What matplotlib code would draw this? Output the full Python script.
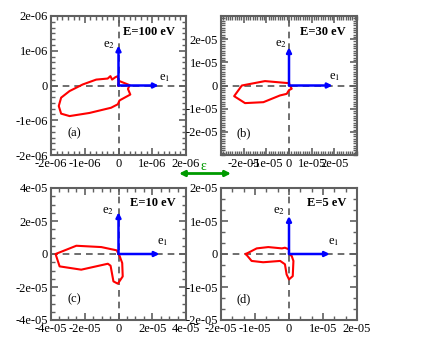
import numpy as np
import matplotlib.pyplot as plt
from matplotlib.ticker import AutoMinorLocator

plt.rcParams['font.family'] = ['Liberation Serif', 'DejaVu Serif']
plt.rcParams['mathtext.fontset'] = 'stix'

# curves, in units of the panel scale
a_x = [0, 0.02, 0.33, 0.28, 0.35, 0.18, 0.03, -0.02, -0.22, -0.86, -1.45, -1.70, -1.77,
       -1.70, -1.45, -1.06, -0.66, -0.32, -0.24, -0.19, -0.09, -0.02, 0, 0]
a_y = [0, 0.13, 0.01, -0.10, -0.26, -0.35, -0.43, -0.54, -0.64, -0.79, -0.88, -0.81, -0.59,
       -0.35, -0.16, 0.03, 0.17, 0.20, 0.27, 0.17, 0.24, 0.27, 0.10, 0]
b_x = [0, -1.06, -2.08, -2.42, -1.94, -1.13, -0.40, -0.10, 0.0, 0.12, 0.04, 0]
b_y = [0.10, 0.19, 0, -0.46, -0.76, -0.72, -0.43, -0.36, -0.20, -0.14, 0.0, 0.10]
c_x = [0, -0.10, -1.02, -2.50, -3.73, -3.49, -2.21, -0.63, -0.47, -0.30, -0.04, 0.25, 0.22, 0.06, 0]
c_y = [0, 0.22, 0.42, 0.50, 0, -0.75, -0.95, -0.59, -0.71, -1.66, -1.80, -1.36, -0.55, -0.10, 0]
d_x = [-1.27, -0.95, -0.61, -0.21, -0.12, 0, 0, 0.08, 0.13, 0.11, 0, -0.07, -0.12, -0.26, -0.76, -1.10, -1.27]
d_y = [0, 0.17, 0.21, 0.17, 0.19, 0.14, 0, -0.06, -0.21, -0.67, -0.77, -0.62, -0.31, -0.21, -0.25, -0.21, 0]

curves = [(a_x, a_y), (b_x, b_y), (c_x, c_y), (d_x, d_y)]
scales = [1e-6, 1e-5, 1e-5, 1e-5]
energies = ['E=100 eV', 'E=30 eV', 'E=10 eV', 'E=5 eV']
tags = ['(a)', '(b)', '(c)', '(d)']
limits = [2, 3, 4, 2]
ticks = [[-2, -1, 0, 1, 2], [-2, -1, 0, 1, 2], [-4, -2, 0, 2, 4], [-2, -1, 0, 1, 2]]
minor_n = [6, 10, 4, 3]
e1_len = [1.19, 1.92, 2.43, 1.20]
e2_len = [1.15, 1.65, 2.53, 1.15]
e1_lab = [(1.37, 0.23), (2.03, 0.36), (2.62, 0.72), (1.32, 0.35)]
e2_lab = [(-0.27, 1.17), (-0.37, 1.80), (-0.63, 2.60), (-0.29, 1.30)]

W, H = 440, 340
boxes = [(51, 16, 135, 139), (221, 16, 136, 139), (51, 188, 135, 132), (221, 188, 136, 132)]
frame = '#606060'

fig = plt.figure(figsize=(4.4, 3.4), dpi=100)

def fmt(v):
    return '0' if v == 0 else '%.0e' % v

for i in range(4):
    x0, y0, w, h = boxes[i]
    ax = fig.add_axes([x0 / W, 1 - (y0 + h) / H, w / W, h / H])
    s = scales[i]
    lim = limits[i] * s
    ax.set_xlim(-lim, lim)
    ax.set_ylim(-lim, lim)
    tv = [t * s for t in ticks[i]]
    ax.set_xticks(tv)
    ax.set_yticks(tv)
    ax.set_xticklabels([fmt(t) for t in tv])
    ax.set_yticklabels([fmt(t) for t in tv])
    ax.xaxis.set_minor_locator(AutoMinorLocator(minor_n[i]))
    ax.yaxis.set_minor_locator(AutoMinorLocator(minor_n[i]))
    ax.tick_params(which='both', direction='in', top=True, right=True, color=frame,
                   labelsize=9, pad=2)
    ax.tick_params(which='major', length=5, width=1.2)
    ax.tick_params(which='minor', length=3, width=1)
    for sp in ax.spines.values():
        sp.set_color(frame)
        sp.set_linewidth(1.5)

    ax.axhline(0, color='#555555', lw=1.2, dashes=(4, 3), zorder=1)
    ax.axvline(0, color='#555555', lw=1.2, dashes=(4, 3), zorder=1)

    cx, cy = curves[i]
    ax.plot(np.array(cx) * s, np.array(cy) * s, color='red', lw=1.5, zorder=3)

    ax.annotate('', xy=(e1_len[i] * s, 0), xytext=(0, 0),
                arrowprops=dict(arrowstyle='-|>', color='blue', lw=1.8,
                                mutation_scale=7, shrinkA=0, shrinkB=0), zorder=4)
    ax.annotate('', xy=(0, e2_len[i] * s), xytext=(0, 0),
                arrowprops=dict(arrowstyle='-|>', color='blue', lw=1.8,
                                mutation_scale=7, shrinkA=0, shrinkB=0), zorder=4)
    ax.text(e1_lab[i][0] * s, e1_lab[i][1] * s, r'e$_1$', fontsize=9,
            ha='center', va='center')
    ax.text(e2_lab[i][0] * s, e2_lab[i][1] * s, r'e$_2$', fontsize=9,
            ha='center', va='center')

    ax.text(0.92, 0.885, energies[i], transform=ax.transAxes, fontsize=9,
            fontweight='bold', ha='right', va='center')
    ax.text(0.17, 0.155, tags[i], transform=ax.transAxes, fontsize=9,
            ha='center', va='center')

green = '#009a00'
fig.add_artist(plt.Annotation('', xy=(179 / W, 1 - 173.5 / H), xytext=(231 / W, 1 - 173.5 / H),
                              xycoords='figure fraction',
                              arrowprops=dict(arrowstyle='<|-|>', color=green, lw=2,
                                              mutation_scale=8, shrinkA=0, shrinkB=0)))
fig.text(203.5 / W, 1 - 166 / H, 'ε', color=green, fontsize=10, ha='center', va='center')

fig.savefig('out.png', dpi=100)
